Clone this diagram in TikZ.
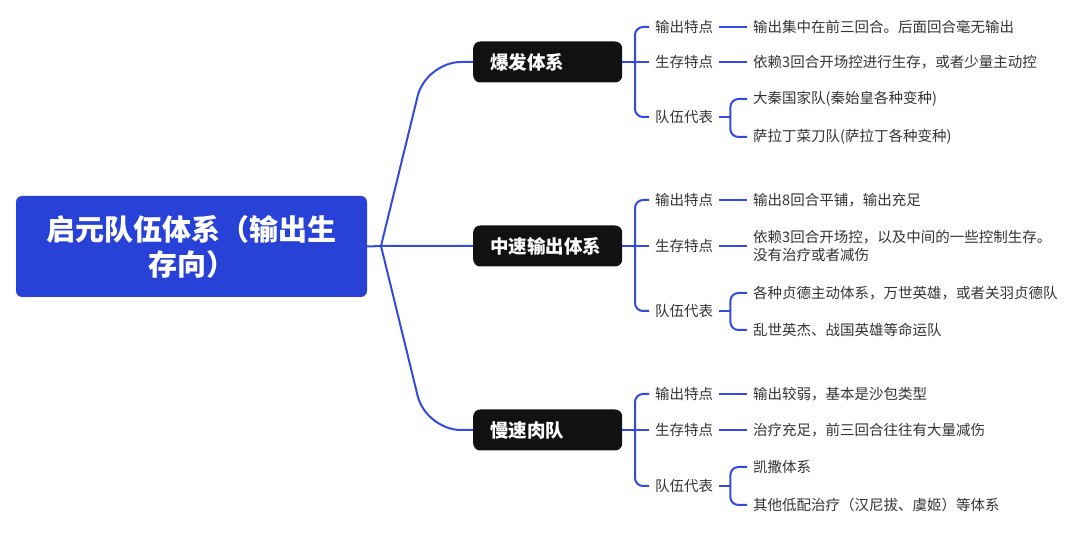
\documentclass[tikz,border=0pt]{standalone}
\usepackage{fontspec}
\setmainfont{Noto Sans CJK SC}
\usetikzlibrary{calc}

\definecolor{rootblue}{RGB}{40,66,216}
\definecolor{linkblue}{RGB}{52,74,222}
\definecolor{boxblack}{RGB}{17,17,17}
\definecolor{textgray}{RGB}{51,51,51}

\begin{document}
\begin{tikzpicture}[x=1pt, y=-1pt,
		rootbox/.style={fill=rootblue, rounded corners=6pt, text=white, align=center,
			font=\fontsize{29}{35}\selectfont\bfseries, minimum width=351pt, minimum height=101pt},
		topicbox/.style={fill=boxblack, rounded corners=7pt, text=white, anchor=west,
			font=\fontsize{18.5}{22}\selectfont\bfseries, text width=115pt, align=left,
			inner xsep=17pt, minimum height=41pt},
		itemtext/.style={anchor=west, text=textgray, inner xsep=6pt, align=left,
			font=\fontsize{14.5}{18}\selectfont},
		link/.style={draw=linkblue, line width=2pt},
		bracket/.style={link, rounded corners=8pt}]
		
		%page
		\useasboundingbox (0,0) rectangle (1080,534);
		
		%root
		\node[rootbox] (root) at (191.5,246.5) {启元队伍体系（输出生\\存向）};
		
		%topics
		\node[topicbox] (burst) at (473,62) {爆发体系};
		\node[topicbox] (mid) at (473,246) {中速输出体系};
		\node[topicbox] (slow) at (473,430) {慢速肉队};
		
		\coordinate (rfork) at (381,246);
		\coordinate (burst bend) at (426,62);
		\coordinate (slow bend) at (426,430);
		
		\draw[link] (root.east) -- (rfork) -- (mid.west);
		\draw[link, rounded corners=35pt] (rfork) -- (burst bend) -- (burst.west);
		\draw[link, rounded corners=35pt] (rfork) -- (slow bend) -- (slow.west);
		
		%burst
		\node[itemtext] (burst out) at (649,27) {输出特点};
		\node[itemtext] (burst live) at (649,62) {生存特点};
		\node[itemtext] (burst team) at (649,117) {队伍代表};
		\node[itemtext] (burst out leaf) at (747,27) {输出集中在前三回合。后面回合毫无输出};
		\node[itemtext] (burst live leaf) at (747,62) {依赖3回合开场控进行生存，或者少量主动控};
		\node[itemtext] (burst team a) at (747,99) {大秦国家队(秦始皇各种变种)};
		\node[itemtext] (burst team b) at (747,137) {萨拉丁菜刀队(萨拉丁各种变种)};
		
		\coordinate (burst fork) at (635,62);
		\draw[link] (burst.east) -- (burst fork) -- (burst live.west);
		\draw[bracket] (burst fork) |- (burst out.west);
		\draw[bracket] (burst fork) |- (burst team.west);
		\draw[link] (burst out.east) -- (burst out leaf.west);
		\draw[link] (burst live.east) -- (burst live leaf.west);
		\coordinate (burst team fork) at ($(burst team.east)+(11,0)$);
		\draw[link] (burst team.east) -- (burst team fork);
		\draw[bracket] (burst team fork) |- (burst team a.west);
		\draw[bracket] (burst team fork) |- (burst team b.west);
		
		%mid
		\node[itemtext] (mid out) at (649,200) {输出特点};
		\node[itemtext] (mid live) at (649,246) {生存特点};
		\node[itemtext] (mid team) at (649,311) {队伍代表};
		\node[itemtext] (mid out leaf) at (747,200) {输出8回合平铺，输出充足};
		\node[itemtext] (mid live leaf) at (747,246) {依赖3回合开场控，以及中间的一些控制生存。\\没有治疗或者减伤};
		\node[itemtext] (mid team a) at (747,293) {各种贞德主动体系，万世英雄，或者关羽贞德队};
		\node[itemtext] (mid team b) at (747,330) {乱世英杰、战国英雄等命运队};
		
		\coordinate (mid fork) at (635,246);
		\draw[link] (mid.east) -- (mid fork) -- (mid live.west);
		\draw[bracket] (mid fork) |- (mid out.west);
		\draw[bracket] (mid fork) |- (mid team.west);
		\draw[link] (mid out.east) -- (mid out leaf.west);
		\draw[link] (mid live.east) -- (mid live leaf.west);
		\coordinate (mid team fork) at ($(mid team.east)+(11,0)$);
		\draw[link] (mid team.east) -- (mid team fork);
		\draw[bracket] (mid team fork) |- (mid team a.west);
		\draw[bracket] (mid team fork) |- (mid team b.west);
		
		%slow
		\node[itemtext] (slow out) at (649,394) {输出特点};
		\node[itemtext] (slow live) at (649,430) {生存特点};
		\node[itemtext] (slow team) at (649,486) {队伍代表};
		\node[itemtext] (slow out leaf) at (747,394) {输出较弱，基本是沙包类型};
		\node[itemtext] (slow live leaf) at (747,430) {治疗充足，前三回合往往有大量减伤};
		\node[itemtext] (slow team a) at (747,467) {凯撒体系};
		\node[itemtext] (slow team b) at (747,505) {其他低配治疗（汉尼拔、虞姬）等体系};
		
		\coordinate (slow fork) at (635,430);
		\draw[link] (slow.east) -- (slow fork) -- (slow live.west);
		\draw[bracket] (slow fork) |- (slow out.west);
		\draw[bracket] (slow fork) |- (slow team.west);
		\draw[link] (slow out.east) -- (slow out leaf.west);
		\draw[link] (slow live.east) -- (slow live leaf.west);
		\coordinate (slow team fork) at ($(slow team.east)+(11,0)$);
		\draw[link] (slow team.east) -- (slow team fork);
		\draw[bracket] (slow team fork) |- (slow team a.west);
		\draw[bracket] (slow team fork) |- (slow team b.west);
		
	\end{tikzpicture}
\end{document}
